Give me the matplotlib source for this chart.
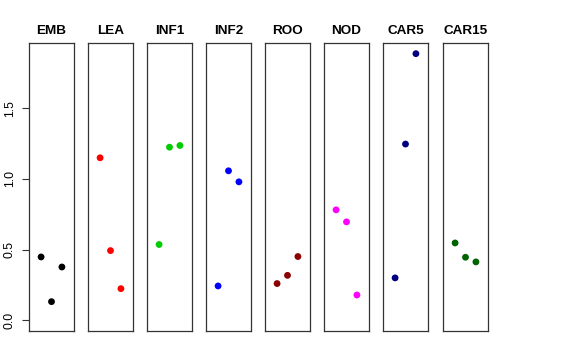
import matplotlib
matplotlib.use("Agg")
import matplotlib.pyplot as plt

plt.rcParams["font.family"] = ["Liberation Sans", "DejaVu Sans"]

panels = ["EMB", "LEA", "INF1", "INF2", "ROO", "NOD", "CAR5", "CAR15"]
colors = ["black", "red", "#00CD00", "blue", "#8B0000", "magenta", "#000080", "#006400"]
values = {
    "EMB":   [0.448, 0.132, 0.377],
    "LEA":   [1.149, 0.493, 0.224],
    "INF1":  [0.536, 1.224, 1.236],
    "INF2":  [0.243, 1.057, 0.979],
    "ROO":   [0.260, 0.318, 0.451],
    "NOD":   [0.781, 0.696, 0.179],
    "CAR5":  [0.300, 1.246, 1.885],
    "CAR15": [0.547, 0.446, 0.413],
}
yticks = [0.0, 0.5, 1.0, 1.5]
ytick_labels = ["0.0", "0.5", "1.0", "1.5"]

W, H = 576, 360
fig = plt.figure(figsize=(W / 100, H / 100), dpi=100)

ymax = max(max(v) for v in values.values())
ylo, yhi = 0 - 0.04 * ymax, ymax + 0.04 * ymax
xs = [1, 2, 3]

lefts = [29, 88, 147, 206, 265, 324, 383, 443]
pw = 45
top, bottom = 43, 331
for i, (name, col, lx) in enumerate(zip(panels, colors, lefts)):
    ax = fig.add_axes([lx / W, (H - bottom) / H, pw / W, (bottom - top) / H])
    ax.scatter(xs, values[name], s=24, color=col, edgecolors="none", zorder=3)
    ax.set_xlim(-0.16, 4.16)
    ax.set_ylim(ylo, yhi)
    ax.set_xticks([])
    for sp in ax.spines.values():
        sp.set_color("#333333")
        sp.set_linewidth(0.9)
    ax.set_title(name, fontsize=9.7, fontweight="bold", pad=6.5)
    if i == 0:
        ax.set_yticks(yticks)
        ax.set_yticklabels(ytick_labels, rotation=90, va="center", fontsize=8.8)
        ax.tick_params(axis="y", length=5, width=0.8, color="#333333", pad=4.5)
    else:
        ax.set_yticks([])

fig.savefig("out.png", dpi=100)
